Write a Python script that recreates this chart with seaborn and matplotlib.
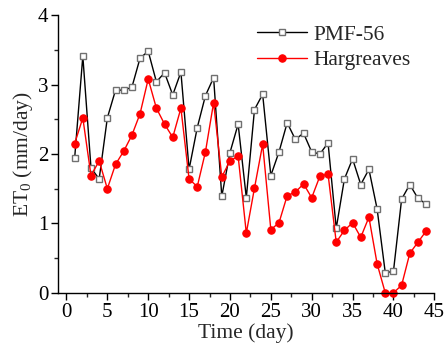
import matplotlib
matplotlib.use("Agg")
import matplotlib.pyplot as plt
import seaborn as sns
import pandas as pd
import numpy as np
from matplotlib.ticker import MultipleLocator

days = list(range(1, 45))
pmf56 = [1.94, 3.41, 1.80, 1.64, 2.52, 2.92, 2.92, 2.96, 3.38, 3.48,
         3.04, 3.17, 2.85, 3.18, 1.78, 2.38, 2.84, 3.10, 1.39, 2.02,
         2.43, 1.37, 2.64, 2.86, 1.69, 2.03, 2.45, 2.21, 2.30, 2.03,
         2.00, 2.16, 0.93, 1.64, 1.93, 1.56, 1.78, 1.21, 0.29, 0.31,
         1.35, 1.56, 1.36, 1.28]
hargreaves = [2.15, 2.52, 1.69, 1.90, 1.50, 1.85, 2.04, 2.27, 2.58, 3.08,
              2.66, 2.43, 2.24, 2.66, 1.64, 1.53, 2.03, 2.74, 1.67, 1.90,
              1.97, 0.86, 1.51, 2.14, 0.91, 1.01, 1.40, 1.45, 1.57, 1.37,
              1.68, 1.71, 0.73, 0.90, 1.01, 0.80, 1.09, 0.42, 0.00, 0.00,
              0.11, 0.57, 0.73, 0.89]

df_p = pd.DataFrame({"day": days, "et0": pmf56})
df_h = pd.DataFrame({"day": days, "et0": hargreaves})

sns.set_theme(style="ticks")
plt.rcParams["font.family"] = ["Liberation Serif", "DejaVu Serif"]
plt.rcParams["mathtext.fontset"] = "custom"
plt.rcParams["mathtext.rm"] = "Liberation Serif"
plt.rcParams["mathtext.it"] = "Liberation Serif:italic"

fig = plt.figure(figsize=(4.45, 3.52), dpi=100)
ax = fig.add_axes([0.131, 0.168, 0.845, 0.789])

sns.lineplot(data=df_p, x="day", y="et0", ax=ax, color="black", lw=1.0,
             marker="s", markersize=4.8, markerfacecolor="white",
             markeredgecolor="#707070", markeredgewidth=1.0,
             label="PMF-56", clip_on=False)
sns.lineplot(data=df_h, x="day", y="et0", ax=ax, color="#ff0000", lw=1.0,
             marker="o", markersize=5.3, markerfacecolor="#ff0000",
             markeredgecolor="#ff0000", markeredgewidth=0.8,
             label="Hargreaves", clip_on=False)

ax.set_xlim(-1, 45)
ax.set_ylim(0, 4)
ax.xaxis.set_major_locator(MultipleLocator(5))
ax.xaxis.set_minor_locator(MultipleLocator(2.5))
ax.yaxis.set_major_locator(MultipleLocator(1))
ax.yaxis.set_minor_locator(MultipleLocator(0.5))
ax.tick_params(axis="both", which="major", direction="out", length=5, width=1,
               labelsize=15, colors="black", pad=2)
ax.tick_params(axis="both", which="minor", direction="out", length=3, width=1)
for s in ["top", "right"]:
    ax.spines[s].set_visible(False)
for s in ["left", "bottom"]:
    ax.spines[s].set_linewidth(1.0)
    ax.spines[s].set_color("black")

ax.set_xlabel("Time (day)", fontsize=15.5, labelpad=1)
ax.set_ylabel("ET$_0$ (mm/day)", fontsize=15.5, labelpad=2)

leg = ax.legend(loc="upper left", bbox_to_anchor=(0.528, 0.965), frameon=False,
                fontsize=15.5, handlelength=2.35, handletextpad=0.3,
                labelspacing=0.25, borderaxespad=0.0, borderpad=0.0)

fig.savefig("out.png", dpi=100)
